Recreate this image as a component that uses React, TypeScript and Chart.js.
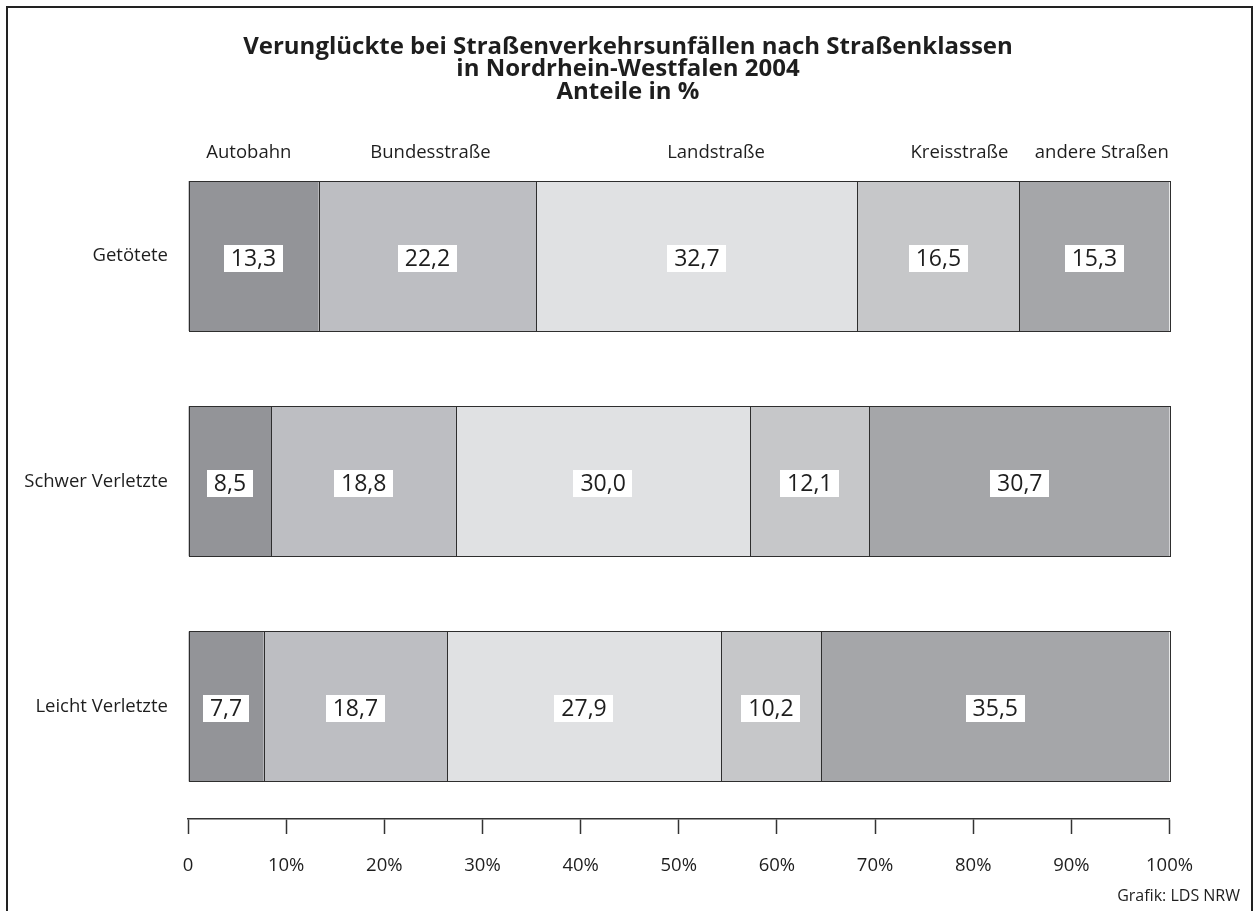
import React, { useEffect, useRef } from 'react';
import { Chart, registerables } from 'chart.js';

Chart.register(...registerables);

const categories = ['Getötete', 'Schwer Verletzte', 'Leicht Verletzte'];
const roadClasses = ['Autobahn', 'Bundesstraße', 'Landstraße', 'Kreisstraße', 'andere Straßen'];
const autobahn = [13.3, 8.5, 7.7];
const bundesstrasse = [22.2, 18.8, 18.7];
const landstrasse = [32.7, 30.0, 27.9];
const kreisstrasse = [16.5, 12.1, 10.2];
const andereStrassen = [15.3, 30.7, 35.5];
const xTickValues = [0, 10, 20, 30, 40, 50, 60, 70, 80, 90, 100];
const xTickLabels = ['0', '10%', '20%', '30%', '40%', '50%', '60%', '70%', '80%', '90%', '100%'];
const titleLines = [
  'Verunglückte bei Straßenverkehrsunfällen nach Straßenklassen',
  'in Nordrhein-Westfalen 2004',
  'Anteile in %',
];
const sourceText = 'Grafik: LDS NRW';

const seriesValues = [autobahn, bundesstrasse, landstrasse, kreisstrasse, andereStrassen];
const seriesColors = ['#939498', '#bdbec2', '#e0e1e3', '#c6c7c9', '#a5a6a9'];
// header centres, expressed in axis percent
const headerPos = [6.2, 24.7, 53.8, 78.6, 93.1];

const FONT = '"Open Sans", "Noto Sans", sans-serif';
const TEXT = '#1e1e1e';

const decorPlugin = {
  id: 'decor',
  beforeDraw(chart: any) {
    const ctx = chart.ctx;
    ctx.save();
    ctx.fillStyle = '#ffffff';
    ctx.fillRect(0, 0, chart.width, chart.height);
    ctx.restore();
  },
  afterDraw(chart: any) {
    const ctx = chart.ctx;
    const xs = chart.scales.x;
    ctx.save();
    // outer frame
    ctx.strokeStyle = '#222';
    ctx.lineWidth = 2;
    ctx.strokeRect(7, 7, 1245, 1000);
    // title
    ctx.fillStyle = TEXT;
    ctx.font = `bold 24px ${FONT}`;
    ctx.textAlign = 'center';
    ctx.textBaseline = 'middle';
    titleLines.forEach((t, i) => ctx.fillText(t, 628, 47 + i * 22.5));
    // column headers
    ctx.font = `18.5px ${FONT}`;
    roadClasses.forEach((h, i) => {
      ctx.fillText(h, xs.getPixelForValue(headerPos[i]), 153);
    });
    // source
    ctx.font = `16px ${FONT}`;
    ctx.textAlign = 'right';
    ctx.fillText(sourceText, 1240, 896);
    ctx.restore();
  },
  afterDatasetsDraw(chart: any) {
    const ctx = chart.ctx;
    ctx.save();
    // crisp outlines for every segment
    ctx.strokeStyle = '#2e2e2e';
    ctx.lineWidth = 1;
    chart.data.datasets.forEach((_ds: any, di: number) => {
      const meta = chart.getDatasetMeta(di);
      meta.data.forEach((el: any) => {
        const l = Math.round(Math.min(el.x, el.base));
        const r = Math.round(Math.max(el.x, el.base));
        const t = Math.round(el.y - el.height / 2);
        const b = Math.round(el.y + el.height / 2);
        ctx.strokeRect(l + 0.5, t + 0.5, r - l, b - t);
      });
    });
    ctx.font = `23px ${FONT}`;
    ctx.textAlign = 'center';
    ctx.textBaseline = 'middle';
    chart.data.datasets.forEach((ds: any, di: number) => {
      const meta = chart.getDatasetMeta(di);
      meta.data.forEach((el: any, i: number) => {
        const v = ds.data[i] as number;
        const txt = v.toFixed(1).replace('.', ',');
        const cx = (el.x + el.base) / 2;
        const cy = el.y + 2;
        const w = ctx.measureText(txt).width + 14;
        const h = 27;
        ctx.fillStyle = '#ffffff';
        ctx.fillRect(Math.round(cx - w / 2), Math.round(cy - h / 2), Math.round(w), h);
        ctx.fillStyle = TEXT;
        ctx.fillText(txt, cx, cy + 1);
      });
    });
    ctx.restore();
  },
};

export default function App() {
  const ref = useRef<HTMLCanvasElement | null>(null);
  useEffect(() => {
    if (!ref.current) return;
    const chart = new Chart(ref.current, {
      type: 'bar',
      data: {
        labels: categories,
        datasets: seriesValues.map((vals, i) => ({
          label: roadClasses[i],
          data: vals,
          backgroundColor: seriesColors[i],
          borderWidth: 0,
          categoryPercentage: 1,
          barPercentage: 0.666,
        })),
      },
      options: {
        indexAxis: 'y',
        animation: false,
        responsive: false,
        maintainAspectRatio: false,
        layout: { padding: { left: 0, top: 143.5, right: 87.5, bottom: 0 } },
        plugins: {
          legend: { display: false },
          tooltip: { enabled: false },
          title: { display: false },
        },
        scales: {
          x: {
            stacked: true,
            min: 0,
            max: 100,
            position: 'bottom',
            afterFit: (s: any) => { s.height = 92; },
            afterBuildTicks: (s: any) => { s.ticks = xTickValues.map((v) => ({ value: v })); },
            ticks: {
              autoSkip: false,
              maxRotation: 0,
              padding: 21,
              color: TEXT,
              font: { family: FONT, size: 18.5 },
              callback: (_v: any, idx: number) => xTickLabels[idx],
            },
            grid: {
              drawOnChartArea: false,
              drawTicks: true,
              tickLength: 15,
              tickWidth: 1.5,
              tickColor: '#333',
            },
            border: { display: true, color: '#333', width: 1.5 },
          },
          y: {
            stacked: true,
            afterFit: (s: any) => { s.width = 188; },
            ticks: {
              padding: 20,
              color: TEXT,
              font: { family: FONT, size: 18.5 },
            },
            grid: { display: false, drawTicks: false },
            border: { display: false },
          },
        },
      },
      plugins: [decorPlugin],
    } as any);
    return () => chart.destroy();
  }, []);
  return (
    <div style={{ position: 'absolute', left: 0, top: 0, width: 1257, height: 911, background: '#fff' }}>
      <canvas ref={ref} width={1257} height={911} style={{ width: 1257, height: 911, display: 'block' }} />
    </div>
  );
}
